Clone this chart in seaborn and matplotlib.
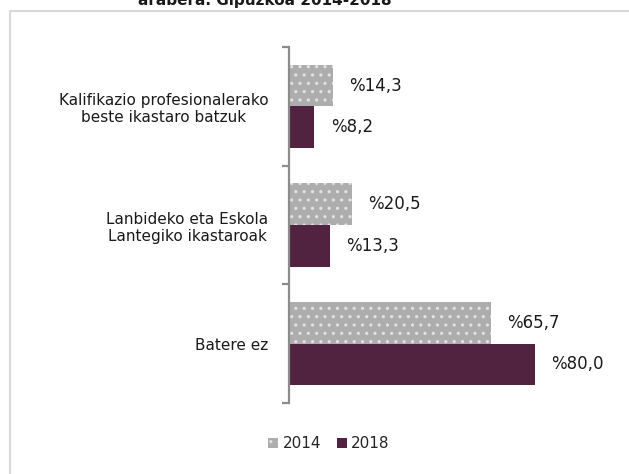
import matplotlib
matplotlib.use("Agg")
import matplotlib.pyplot as plt
import matplotlib.patches as mpatches
import seaborn as sns
import pandas as pd

categories = ["Kalifikazio profesionalerako\nbeste ikastaro batzuk",
              "Lanbideko eta Eskola\nLantegiko ikastaroak",
              "Batere ez"]
years = ["2014", "2018"]
values_2014 = [14.3, 20.5, 65.7]
values_2018 = [8.2, 13.3, 80.0]
title_text = "arabera. Gipuzkoa 2014-2018"

df = pd.DataFrame({
    "kategoria": categories * 2,
    "urtea": [years[0]] * 3 + [years[1]] * 3,
    "balioa": values_2014 + values_2018,
})

sns.set_theme(style="white")
plt.rcParams["font.family"] = ["DejaVu Sans"]
plt.rcParams["hatch.linewidth"] = 1.1

c2014 = "#adadad"
c2018 = "#522241"
dot = "#e2e2e2"

fig = plt.figure(figsize=(6.29, 4.74), dpi=100)
ax = fig.add_axes([289 / 629, 1 - 403 / 474, (596 - 289) / 629, (403 - 47) / 474])

sns.barplot(data=df, y="kategoria", x="balioa", hue="urtea", order=categories,
            hue_order=years, palette=[c2014, c2018], orient="h", width=0.7,
            ax=ax, legend=False, saturation=1)

containers = ax.containers
for bar in containers[0]:
    bar.set_hatch("..")
    bar.set_edgecolor(dot)
    bar.set_linewidth(0)
for bar in containers[1]:
    bar.set_linewidth(0)

for cont, vals in zip(containers, [values_2014, values_2018]):
    labels = ["%" + f"{v:.1f}".replace(".", ",") for v in vals]
    ax.bar_label(cont, labels=labels, padding=12, fontsize=12, color="#1a1a1a")

ax.set_xlim(0, 100)
ax.set_xlabel("")
ax.set_ylabel("")
ax.set_xticks([])
for s in ["top", "right", "bottom"]:
    ax.spines[s].set_visible(False)
ax.spines["left"].set_color("#8c8c8c")
ax.spines["left"].set_linewidth(1.6)

ax.set_yticks([0, 1, 2])
ax.set_yticklabels(categories, fontsize=11, color="#1a1a1a")
for lab in ax.get_yticklabels():
    lab.set_multialignment("center")
ax.tick_params(axis="y", length=0, pad=15)
ax.set_yticks([-0.5, 0.5, 1.5, 2.5], minor=True)
ax.tick_params(axis="y", which="minor", length=5, width=1.6, color="#8c8c8c", left=True)
ax.set_ylim(2.5, -0.5)

frame = mpatches.Rectangle((9.5 / 629, -0.1), 1.2, 1 - 10.5 / 474 + 0.1,
                           transform=fig.transFigure, fill=False,
                           edgecolor="#d9d9d9", linewidth=1.5)
fig.add_artist(frame)

fig.text(265 / 629, 1 - 5.5 / 474, title_text, ha="center", va="baseline",
         fontsize=11, fontweight="bold", color="#1a1a1a")

handles = [mpatches.Patch(facecolor=c2014, edgecolor=dot, hatch="..", linewidth=0, label="2014"),
           mpatches.Patch(facecolor=c2018, linewidth=0, label="2018")]
fig.legend(handles=handles, loc="center", bbox_to_anchor=(329 / 629, 1 - 444 / 474),
           ncol=2, frameon=False, fontsize=11, handlelength=0.65, handleheight=0.65,
           handletextpad=0.3, columnspacing=1.0)

fig.savefig("out.png", dpi=100)
